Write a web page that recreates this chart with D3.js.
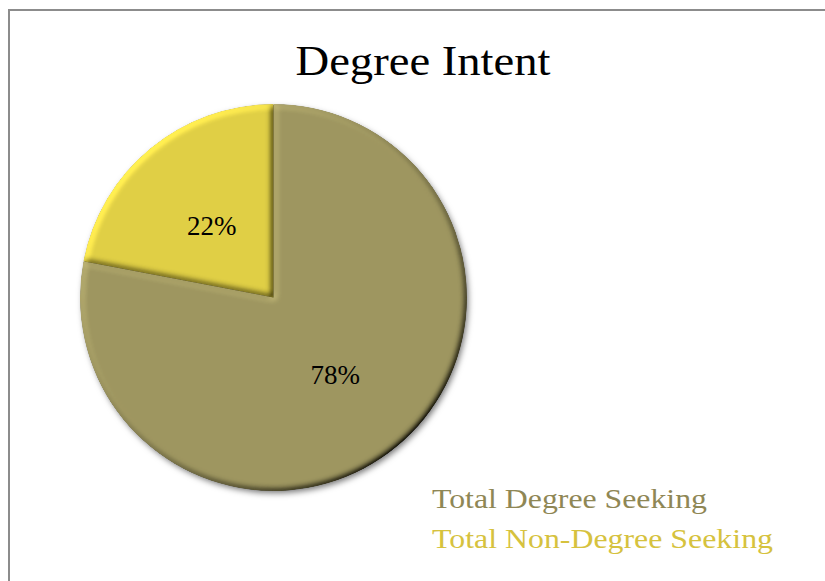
<!DOCTYPE html>
<html>
<head>
<meta charset="utf-8">
<script src="https://cdn.jsdelivr.net/npm/d3@7"></script>
<style>
  body { margin: 0; background: #fff; }
  svg { display: block; }
</style>
</head>
<body>
<svg width="825" height="581"></svg>
<script>
var categories = ["Total Degree Seeking", "Total Non-Degree Seeking"];
var values = [78, 22];
var sliceColors = ["#9e9660", "#e0cf45"];
var legendColors = ["#8f8755", "#d6c23e"];
var title = "Degree Intent";

var svg = d3.select("svg");
var width = 825, height = 581;
var cx = 273.5, cy = 297.5, radius = 193.5;

// chart frame (right and bottom edges run off the picture)
svg.append("rect")
    .attr("x", 9).attr("y", 10)
    .attr("width", 830).attr("height", 590)
    .attr("fill", "#fff")
    .attr("stroke", "#8c8c8c")
    .attr("stroke-width", 2);

var defs = svg.append("defs");

// bevel look on each slice
var bevel = defs.append("filter").attr("id", "bevel")
    .attr("x", "-5%").attr("y", "-5%").attr("width", "110%").attr("height", "110%");
bevel.append("feGaussianBlur").attr("in", "SourceAlpha").attr("stdDeviation", 3).attr("result", "blur");
bevel.append("feDiffuseLighting")
    .attr("in", "blur").attr("surfaceScale", 4).attr("diffuseConstant", 1)
    .attr("lighting-color", "#fff").attr("result", "light")
  .append("feDistantLight").attr("azimuth", 225).attr("elevation", 45);
bevel.append("feComposite")
    .attr("in", "SourceGraphic").attr("in2", "light")
    .attr("operator", "arithmetic")
    .attr("k1", 1.414).attr("k2", 0).attr("k3", 0).attr("k4", 0)
    .attr("result", "lit");
bevel.append("feComposite").attr("in", "lit").attr("in2", "SourceAlpha").attr("operator", "in");

// shadow under the pie
var shadow = defs.append("filter").attr("id", "shadow")
    .attr("x", "-10%").attr("y", "-10%").attr("width", "130%").attr("height", "130%");
shadow.append("feDropShadow")
    .attr("dx", 2).attr("dy", 3).attr("stdDeviation", 3)
    .attr("flood-color", "#000").attr("flood-opacity", 0.55);

svg.append("text")
    .attr("x", 423).attr("y", 75)
    .attr("text-anchor", "middle")
    .attr("textLength", 255).attr("lengthAdjust", "spacingAndGlyphs")
    .style("font-family", "'Liberation Serif', serif")
    .style("font-size", "42px")
    .attr("fill", "#000")
    .text(title);

var pie = d3.pie().sort(null).value(function(d) { return d; });
var arcs = pie(values);
var arc = d3.arc().innerRadius(0).outerRadius(radius);

var g = svg.append("g").attr("transform", "translate(" + cx + "," + cy + ")");

g.append("circle").attr("r", radius - 1).attr("fill", "#8a8350").attr("filter", "url(#shadow)");

g.selectAll("path.slice")
    .data(arcs)
  .enter().append("path")
    .attr("class", "slice")
    .attr("d", arc)
    .attr("fill", function(d, i) { return sliceColors[i]; })
    .attr("filter", "url(#bevel)");

g.selectAll("text.pct")
    .data(arcs)
  .enter().append("text")
    .attr("class", "pct")
    .attr("transform", function(d) { var c = arc.centroid(d); return "translate(" + c[0] + "," + (c[1] + 12) + ")"; })
    .attr("text-anchor", "middle")
    .style("font-family", "'Liberation Serif', serif")
    .style("font-size", "27px")
    .attr("fill", "#000")
    .text(function(d) { return d.data + "%"; });

var legendWidths = [275, 341];
var legend = svg.append("g").attr("transform", "translate(432,508)");
legend.selectAll("text")
    .data(categories)
  .enter().append("text")
    .attr("x", 0)
    .attr("y", function(d, i) { return i * 40; })
    .attr("textLength", function(d, i) { return legendWidths[i]; })
    .attr("lengthAdjust", "spacingAndGlyphs")
    .style("font-family", "'Liberation Serif', serif")
    .style("font-size", "27px")
    .attr("fill", function(d, i) { return legendColors[i]; })
    .text(function(d) { return d; });
</script>
</body>
</html>
